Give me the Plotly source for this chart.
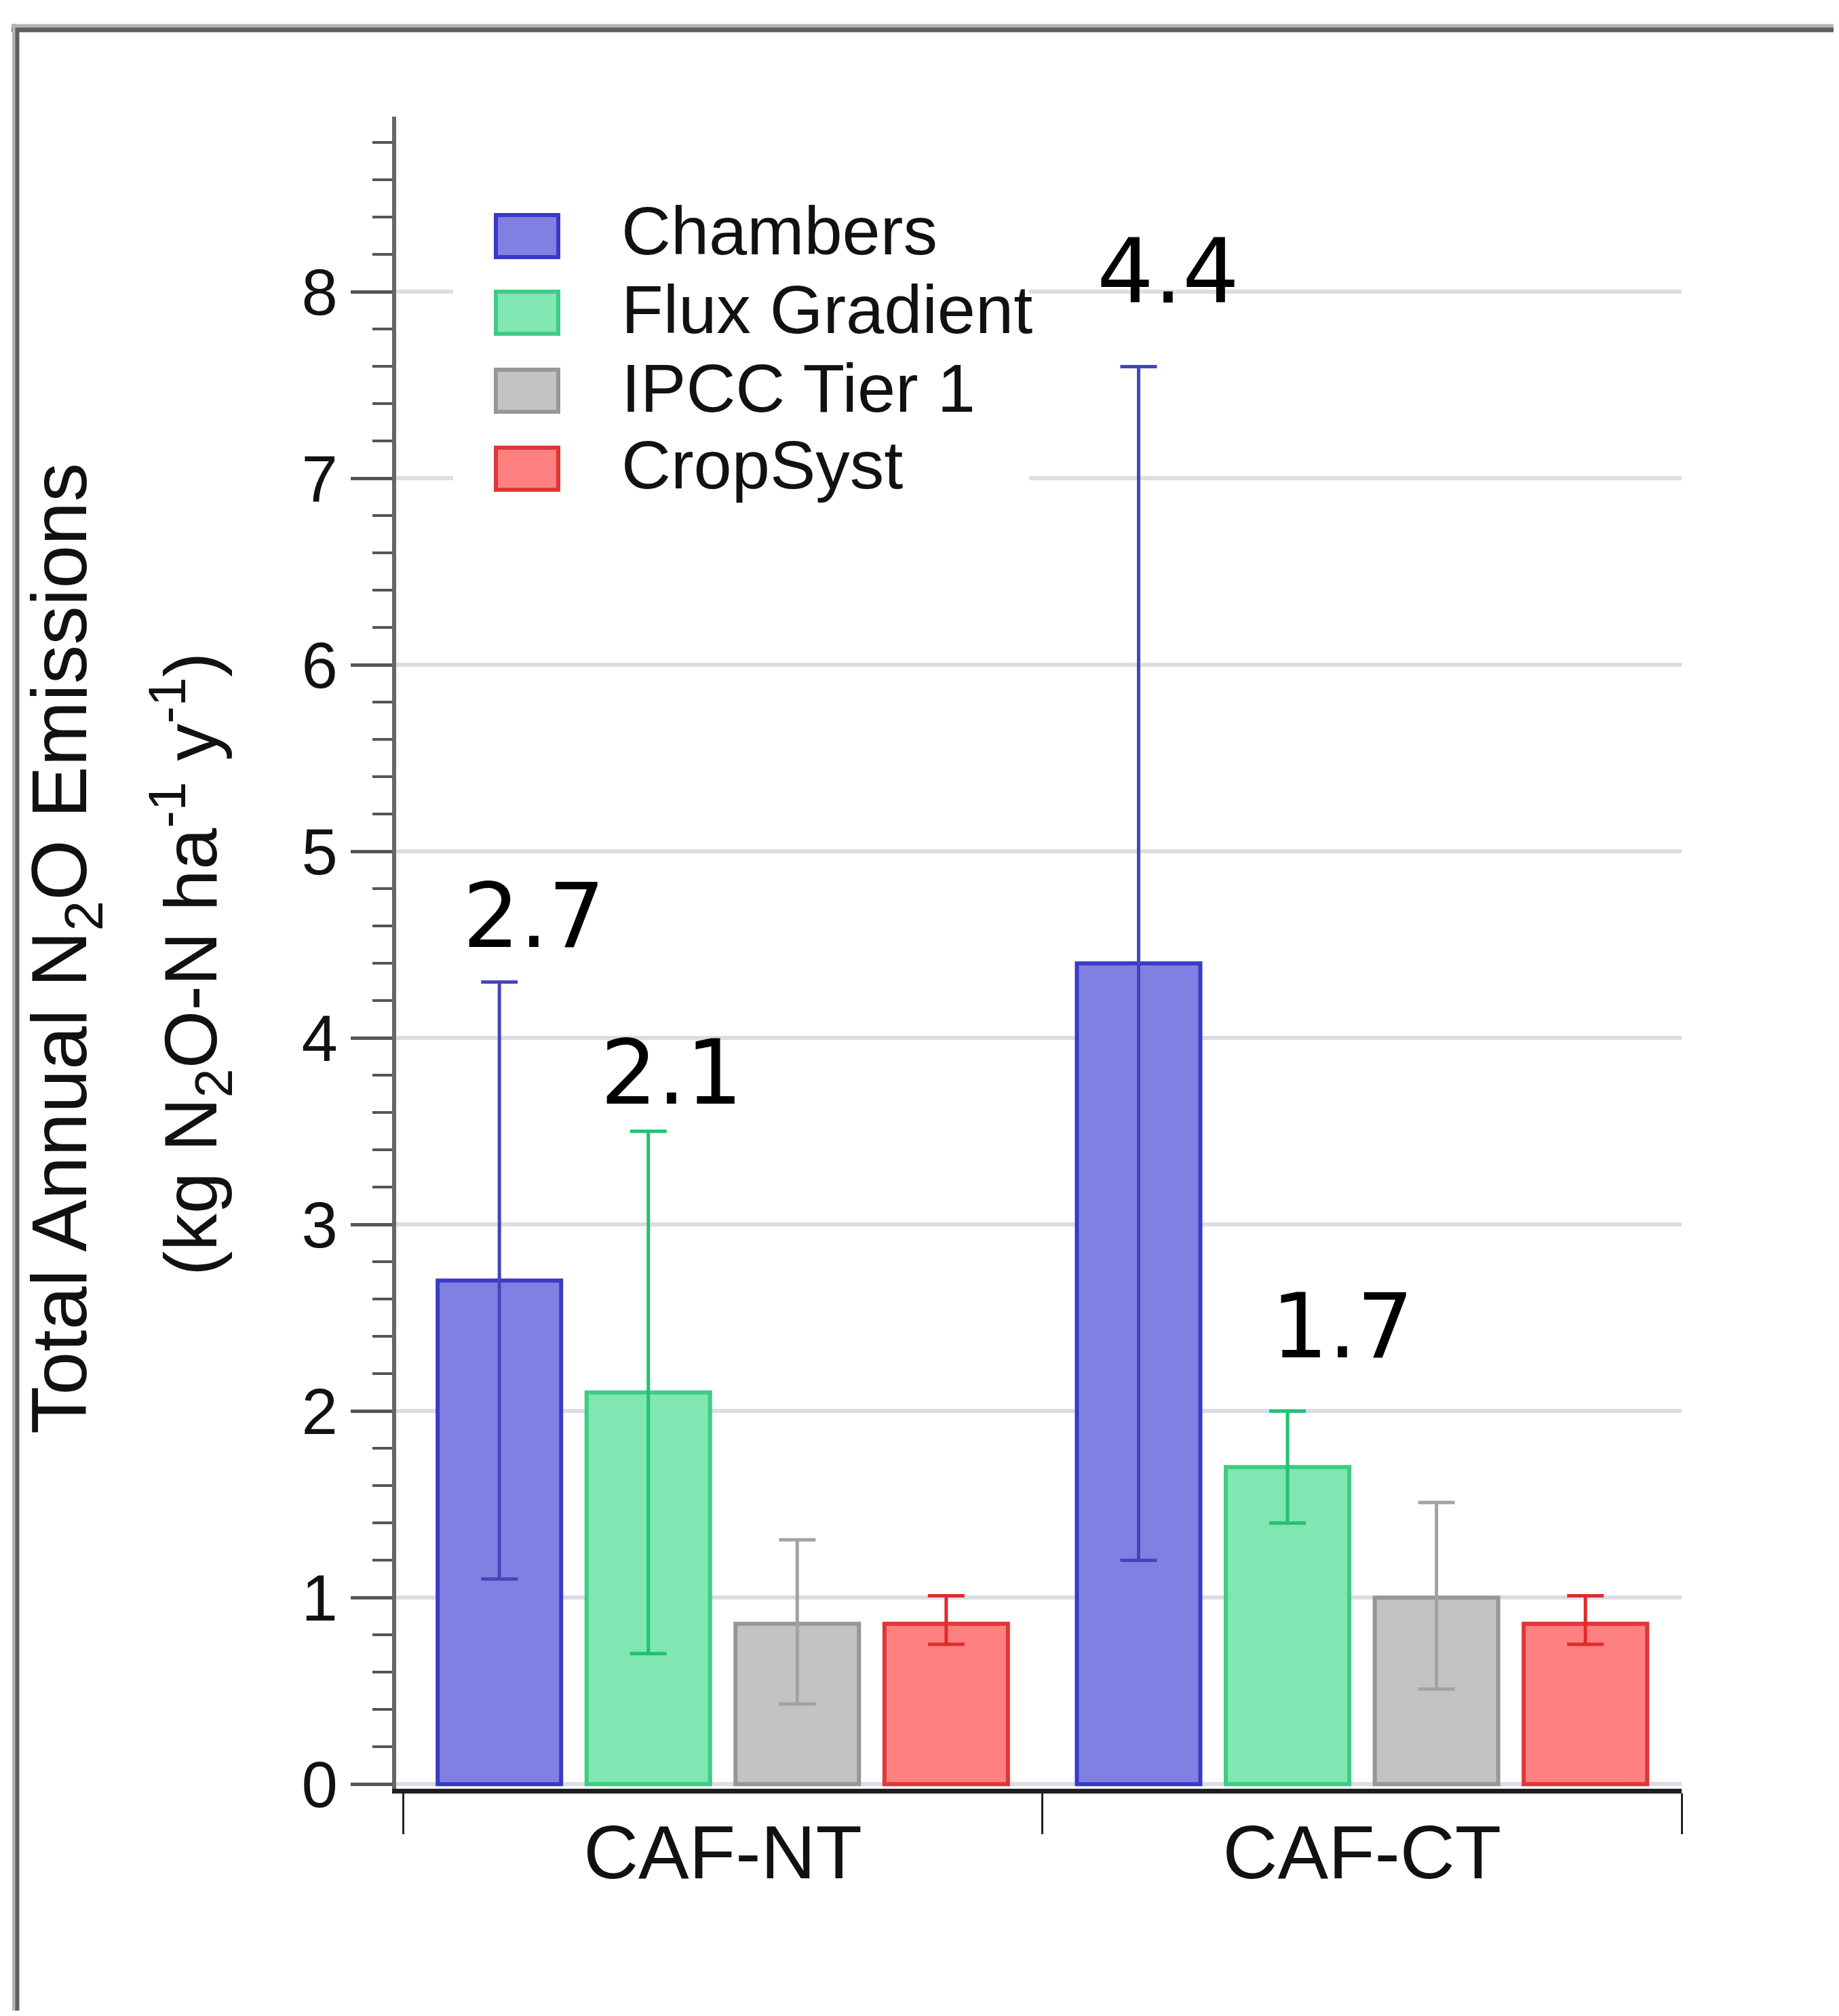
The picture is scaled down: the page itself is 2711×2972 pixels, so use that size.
import plotly.graph_objects as go

# ---------------- data ----------------
categories = ["CAF-NT", "CAF-CT"]
series_names = ["Chambers", "Flux Gradient", "IPCC Tier 1", "CropSyst"]

chambers = [2.7, 4.4]
chambers_err_plus = [1.6, 3.2]
chambers_err_minus = [1.6, 3.2]

flux_gradient = [2.1, 1.7]
flux_err_plus = [1.4, 0.3]
flux_err_minus = [1.4, 0.3]

ipcc_tier1 = [0.86, 1.0]
ipcc_err_plus = [0.45, 0.51]
ipcc_err_minus = [0.43, 0.49]

cropsyst = [0.86, 0.86]
cropsyst_err_plus = [0.15, 0.15]
cropsyst_err_minus = [0.11, 0.11]

y_tick_values = [0, 1, 2, 3, 4, 5, 6, 7, 8]
y_tick_labels = ["0", "1", "2", "3", "4", "5", "6", "7", "8"]

# bars that carry a value label: (series index, category index)
labelled_bars = [(0, 0), (1, 0), (0, 1), (1, 1)]

values = [chambers, flux_gradient, ipcc_tier1, cropsyst]
err_plus = [chambers_err_plus, flux_err_plus, ipcc_err_plus, cropsyst_err_plus]
err_minus = [chambers_err_minus, flux_err_minus, ipcc_err_minus, cropsyst_err_minus]

# ---------------- style / layout ----------------
OFF = 8                      # page body margin
SW, SH = 2711, 2972          # screenshot size
W, H = SW - 2 * OFF, SH - 2 * OFF
PLOT_L, PLOT_R, PLOT_T, PLOT_B = 584, 2479, 172, 2637   # target screen px
L = PLOT_L - OFF
T = PLOT_T - OFF
R = W - (PLOT_R - OFF)
B = H - (PLOT_B - OFF)
PW, PH = W - L - R, H - T - B

fills = ["#8080e2", "#80e6b2", "#c3c3c3", "#ff8080"]
edges = ["#3a3ac6", "#3ecb86", "#979797", "#e03636"]
errcols = ["#4444bc", "#22c172", "#a2a2a2", "#e02a2a"]

BARGAP = 0.068
BARGROUPGAP = 0.171
LABEL_SHIFTS = [(51, 98), (34, 87), (43, 140), (81, 125)]  # pixel offsets of labels

FONT = "Liberation Sans, Arial, sans-serif"


def px_x(x):
    return (x - OFF - L) / PW


def px_y(y):
    return (H - B - (y - OFF)) / PH


fig = go.Figure()
for i, name in enumerate(series_names):
    fig.add_trace(go.Bar(
        name=name,
        x=categories,
        y=values[i],
        marker=dict(color=fills[i], line=dict(color=edges[i], width=6)),
        error_y=dict(type="data", symmetric=False, array=err_plus[i],
                     arrayminus=err_minus[i], color=errcols[i],
                     thickness=5, width=27),
        showlegend=False,
    ))

annotations = []
shapes = []

# value labels
n = len(series_names)
slot = (1 - BARGAP) / n
for k, (si, ci) in enumerate(labelled_bars):
    xc = ci - (1 - BARGAP) / 2 + (si + 0.5) * slot
    dx, dy = LABEL_SHIFTS[k]
    annotations.append(dict(
        x=xc, y=values[si][ci] + err_plus[si][ci], xref="x", yref="y",
        text=f"{values[si][ci]:.1f}", showarrow=False,
        xanchor="center", yanchor="middle", xshift=dx, yshift=dy,
        font=dict(family="DejaVu Sans", size=132, color="#000000"),
    ))

# y-axis title (two lines)
annotations.append(dict(
    x=px_x(95), y=px_y(1398), xref="paper", yref="paper",
    text="Total Annual N<sub>2</sub>O Emissions", textangle=-90,
    showarrow=False, xanchor="center", yanchor="middle",
    font=dict(family=FONT, size=115, color="#111111"),
))
annotations.append(dict(
    x=px_x(280), y=px_y(1422), xref="paper", yref="paper",
    text="(kg N<sub>2</sub>O-N ha<sup>-1</sup> y<sup>-1</sup>)", textangle=-90,
    showarrow=False, xanchor="center", yanchor="middle",
    font=dict(family=FONT, size=110, color="#111111"),
))

# legend (white panel + swatches + labels)
shapes.append(dict(type="rect", xref="paper", yref="paper",
                   x0=px_x(668), x1=px_x(1517), y0=px_y(250), y1=px_y(770),
                   fillcolor="#ffffff", line=dict(width=0), layer="above"))
leg_centers = [348, 461, 576, 691]
text_centers = [340, 456, 572, 685]
for i, name in enumerate(series_names):
    yc = leg_centers[i]
    shapes.append(dict(type="rect", xref="paper", yref="paper",
                       x0=px_x(731), x1=px_x(823), y0=px_y(yc + 31), y1=px_y(yc - 31),
                       fillcolor=fills[i], line=dict(color=edges[i], width=6),
                       layer="above"))
    annotations.append(dict(
        x=px_x(914), y=px_y(text_centers[i]), xref="paper", yref="paper",
        text=name, showarrow=False, xanchor="left", yanchor="middle",
        font=dict(family=FONT, size=101, color="#111111"),
    ))

# outer frame (top and left edges)
shapes.append(dict(type="line", xref="paper", yref="paper",
                   x0=px_x(17), x1=px_x(SW + 5), y0=px_y(38), y1=px_y(38),
                   line=dict(color="#b4b4b4", width=5), layer="above"))
shapes.append(dict(type="line", xref="paper", yref="paper",
                   x0=px_x(17), x1=px_x(SW + 5), y0=px_y(44), y1=px_y(44),
                   line=dict(color="#606060", width=7), layer="above"))
shapes.append(dict(type="line", xref="paper", yref="paper",
                   x0=px_x(20.5), x1=px_x(20.5), y0=px_y(35), y1=px_y(SH + 5),
                   line=dict(color="#b4b4b4", width=5), layer="above"))
shapes.append(dict(type="line", xref="paper", yref="paper",
                   x0=px_x(25.5), x1=px_x(25.5), y0=px_y(41), y1=px_y(SH + 5),
                   line=dict(color="#606060", width=6), layer="above"))

fig.update_layout(
    width=W, height=H,
    margin=dict(l=L, r=R, t=T, b=B, pad=0),
    paper_bgcolor="#ffffff", plot_bgcolor="#ffffff",
    barmode="group", bargap=BARGAP, bargroupgap=BARGROUPGAP,
    showlegend=False,
    annotations=annotations, shapes=shapes,
    font=dict(family=FONT, color="#111111"),
)
fig.update_xaxes(
    type="category", range=[-0.511, 1.5],
    showline=True, linecolor="#1e1e1e", linewidth=7,
    ticks="outside", tickson="boundaries", ticklen=60, tickwidth=3,
    tickcolor="#222222", showgrid=False, zeroline=False,
    ticklabelstandoff=-9,
    tickfont=dict(family=FONT, size=112, color="#111111"),
)
fig.update_yaxes(
    range=[-0.025, 8.94],
    tickmode="array", tickvals=y_tick_values, ticktext=y_tick_labels,
    showline=True, linecolor="#666666", linewidth=6,
    ticks="outside", ticklen=61, tickwidth=5, tickcolor="#555555",
    showgrid=True, gridcolor="#dcdce6", gridwidth=6, zeroline=False,
    minor=dict(dtick=0.2, tick0=0, ticks="outside", ticklen=29, tickwidth=4,
               tickcolor="#555555", showgrid=False),
    tickfont=dict(family=FONT, size=96, color="#111111"),
)

fig.write_html("out.html")
